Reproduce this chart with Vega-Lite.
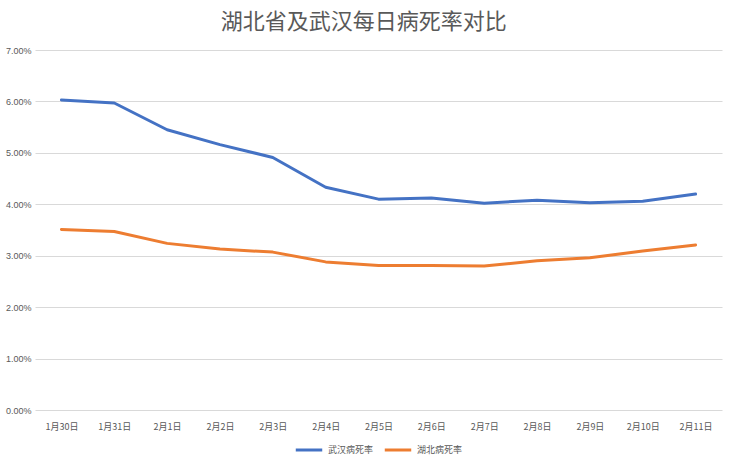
{
  "$schema": "https://vega.github.io/schema/vega-lite/v6.json",
  "width": 731,
  "height": 463,
  "autosize": {"type": "fit", "contains": "padding"},
  "padding": {"left": 5, "right": 9, "top": 11, "bottom": 7},
  "background": "#ffffff",
  "title": {
    "text": "湖北省及武汉每日病死率对比",
    "font": "Noto Sans CJK SC",
    "fontSize": 22,
    "fontWeight": "normal",
    "color": "#595959",
    "anchor": "middle",
    "frame": "bounds",
    "offset": 12
  },
  "data": {
    "values": [
      {"date": "1月30日", "series": "武汉病死率", "rate": 0.0603},
      {"date": "1月31日", "series": "武汉病死率", "rate": 0.0597},
      {"date": "2月1日", "series": "武汉病死率", "rate": 0.0545},
      {"date": "2月2日", "series": "武汉病死率", "rate": 0.0516},
      {"date": "2月3日", "series": "武汉病死率", "rate": 0.0491},
      {"date": "2月4日", "series": "武汉病死率", "rate": 0.0433},
      {"date": "2月5日", "series": "武汉病死率", "rate": 0.0410},
      {"date": "2月6日", "series": "武汉病死率", "rate": 0.0412},
      {"date": "2月7日", "series": "武汉病死率", "rate": 0.0402},
      {"date": "2月8日", "series": "武汉病死率", "rate": 0.0408},
      {"date": "2月9日", "series": "武汉病死率", "rate": 0.0403},
      {"date": "2月10日", "series": "武汉病死率", "rate": 0.0406},
      {"date": "2月11日", "series": "武汉病死率", "rate": 0.0420},
      {"date": "1月30日", "series": "湖北病死率", "rate": 0.0351},
      {"date": "1月31日", "series": "湖北病死率", "rate": 0.0347},
      {"date": "2月1日", "series": "湖北病死率", "rate": 0.0324},
      {"date": "2月2日", "series": "湖北病死率", "rate": 0.0313},
      {"date": "2月3日", "series": "湖北病死率", "rate": 0.0307},
      {"date": "2月4日", "series": "湖北病死率", "rate": 0.0288},
      {"date": "2月5日", "series": "湖北病死率", "rate": 0.0281},
      {"date": "2月6日", "series": "湖北病死率", "rate": 0.0281},
      {"date": "2月7日", "series": "湖北病死率", "rate": 0.0280},
      {"date": "2月8日", "series": "湖北病死率", "rate": 0.0290},
      {"date": "2月9日", "series": "湖北病死率", "rate": 0.0296},
      {"date": "2月10日", "series": "湖北病死率", "rate": 0.0309},
      {"date": "2月11日", "series": "湖北病死率", "rate": 0.0321}
    ]
  },
  "mark": {"type": "line", "strokeWidth": 3, "strokeCap": "round", "strokeJoin": "round"},
  "encoding": {
    "x": {
      "field": "date",
      "type": "ordinal",
      "sort": null,
      "scale": {"type": "point", "padding": 0.5},
      "axis": {
        "title": null,
        "labelAngle": 0,
        "labelFont": "Noto Sans CJK SC",
        "labelFontSize": 9,
        "labelColor": "#595959",
        "labelPadding": 12,
        "ticks": false,
        "domain": false,
        "grid": false
      }
    },
    "y": {
      "field": "rate",
      "type": "quantitative",
      "scale": {"domain": [0, 0.07], "nice": false},
      "axis": {
        "title": null,
        "format": ".2%",
        "values": [0, 0.01, 0.02, 0.03, 0.04, 0.05, 0.06, 0.07],
        "labelFont": "Liberation Sans",
        "labelFontSize": 9,
        "labelColor": "#595959",
        "labelPadding": 4,
        "ticks": false,
        "domain": false,
        "grid": true,
        "gridColor": "#d9d9d9",
        "gridWidth": 1
      }
    },
    "color": {
      "field": "series",
      "type": "nominal",
      "sort": ["武汉病死率", "湖北病死率"],
      "scale": {"domain": ["武汉病死率", "湖北病死率"], "range": ["#4472C4", "#ED7D31"]},
      "legend": {
        "title": null,
        "orient": "bottom",
        "direction": "horizontal",
        "symbolType": "stroke",
        "symbolSize": 700,
        "symbolStrokeWidth": 3,
        "labelFont": "Noto Sans CJK SC",
        "labelFontSize": 9,
        "labelColor": "#595959",
        "columnPadding": 4,
        "offset": 4
      }
    }
  },
  "config": {
    "view": {"stroke": null},
    "legend": {"layout": {"bottom": {"anchor": "middle"}}}
  }
}
